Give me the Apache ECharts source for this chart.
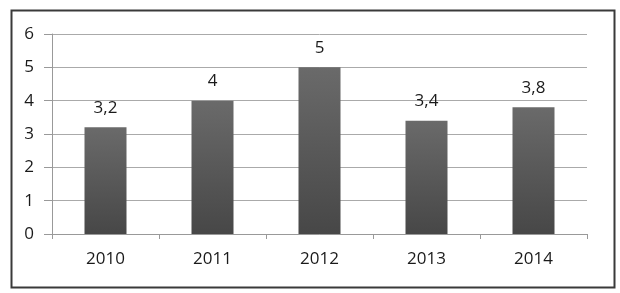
<!DOCTYPE html>
<html><head><meta charset="utf-8">
<script src="https://cdn.jsdelivr.net/npm/echarts@6/dist/echarts.min.js"></script>
<style>html,body{margin:0;padding:0;background:#fff}#c{width:620px;height:293px}</style>
</head><body><div id="c"></div>
<script>
const categories = ['2010', '2011', '2012', '2013', '2014'];
const values = [3.2, 4, 5, 3.4, 3.8];
const yTicks = [0, 1, 2, 3, 4, 5, 6];

const chart = echarts.init(document.getElementById('c'), null, {renderer: 'canvas'});
const font = 'Open Sans';
chart.setOption({
  animation: false,
  graphic: [{
    type: 'rect', left: 9, top: 8, shape: {x: 0, y: 0, width: 603, height: 277},
    style: {fill: 'none', stroke: '#3a3a3a', lineWidth: 2}, silent: true
  }],
  grid: {left: 52, right: 33, top: 34, bottom: 59},
  xAxis: {
    type: 'category', data: categories,
    axisLine: {lineStyle: {color: '#999', width: 1}},
    axisTick: {show: true, length: 5, lineStyle: {color: '#999'}},
    axisLabel: {color: '#1a1a1a', fontFamily: font, fontSize: 17, margin: 17}
  },
  yAxis: {
    type: 'value', min: yTicks[0], max: yTicks[yTicks.length - 1], interval: 1,
    axisLine: {show: true, lineStyle: {color: '#999'}},
    axisTick: {show: true, length: 8, inside: false, lineStyle: {color: '#999'}},
    splitLine: {lineStyle: {color: '#aaa'}},
    axisLabel: {color: '#1a1a1a', fontFamily: font, fontSize: 17, margin: 18}
  },
  series: [{
    type: 'bar', data: values, barWidth: 42,
    itemStyle: {color: new echarts.graphic.LinearGradient(0, 0, 0, 1, [
      {offset: 0, color: '#6a6a6a'}, {offset: 1, color: '#474747'}])},
    label: {show: true, position: 'top', distance: 11, color: '#1a1a1a', fontFamily: font, fontSize: 17,
      formatter: p => String(p.value).replace('.', ',')}
  }]
});
</script></body></html>
